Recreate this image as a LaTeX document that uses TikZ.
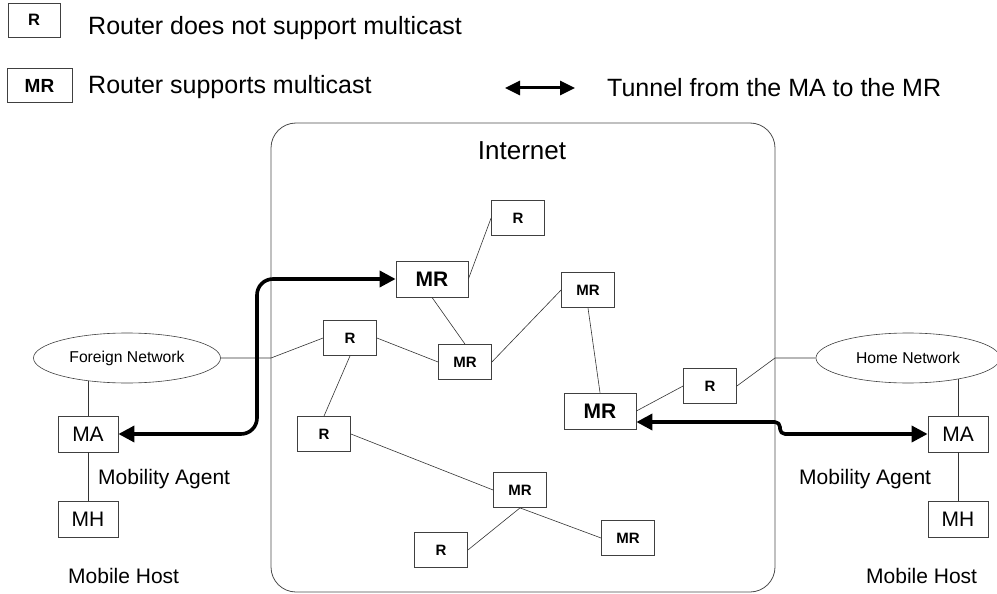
\documentclass[tikz,border=0pt]{standalone}
\usepackage{fontspec}
\setmainfont{Liberation Sans}
\usetikzlibrary{shapes.geometric,arrows.meta}
\begin{document}
\begin{tikzpicture}[x=1pt,y=-1pt,
  rbox/.style={draw=black!75, line width=0.8pt, minimum width=53pt, minimum height=35pt, inner sep=0pt, font=\fontsize{15}{18}\selectfont\bfseries},
  bigmr/.style={rbox, minimum width=72pt, minimum height=36pt, font=\fontsize{21}{25}\selectfont\bfseries},
  host/.style={draw=black!75, line width=0.8pt, minimum width=60pt, minimum height=36pt, inner sep=0pt, font=\fontsize{21}{25}\selectfont},
  net/.style={ellipse, draw=black!75, line width=0.6pt, minimum width=187pt, minimum height=50pt, inner sep=0pt, font=\fontsize{15.7}{19}\selectfont},
  link/.style={line width=0.6pt, draw=black!80},
  lbl/.style={inner sep=0pt, font=\fontsize{21}{25}\selectfont},
  legtext/.style={inner sep=0pt, font=\fontsize{25}{30}\selectfont},
  tunnel/.style={line width=3.6pt, line join=round, {Triangle[length=16pt,width=16pt]}-{Triangle[length=16pt,width=16pt]}}
]
\useasboundingbox (0,0) rectangle (997,594);

% legend
\node[rbox, minimum width=52pt, minimum height=34pt, font=\fontsize{16.5}{20}\selectfont\bfseries] (lr) at (34,20) {R};
\node[rbox, minimum width=65pt, minimum height=34pt, font=\fontsize{19}{23}\selectfont\bfseries] (lmr) at (39.5,85.5) {MR};
\node[legtext, anchor=base west] (t1) at (88,35) {Router does not support multicast};
\node[legtext, anchor=base west] (t2) at (88,94) {Router supports multicast};
\coordinate (la1) at (505,88);
\coordinate (la2) at (575,88);
\draw[line width=3pt, {Triangle[length=15pt,width=14pt]}-{Triangle[length=15pt,width=14pt]}] (la1) -- (la2);
\node[legtext, anchor=base west] (t3) at (607,96) {Tunnel from the MA to the MR};

% Internet
\node[draw=black!70, line width=0.8pt, rounded corners=25pt, minimum width=504pt, minimum height=469pt, inner sep=0pt] (inet) at (523,357.5) {};
\node[inner sep=0pt, font=\fontsize{26}{31}\selectfont, anchor=base] (inettxt) at (522,159) {Internet};

% routers
\node[rbox] (rtop) at (518,218) {R};
\node[bigmr] (mr1) at (432,279) {MR};
\node[rbox] (mr2) at (588,290) {MR};
\node[rbox] (r1) at (350,338) {R};
\node[rbox] (mr3) at (465,362) {MR};
\node[rbox] (r2) at (324,434) {R};
\node[bigmr] (mr4) at (600,411) {MR};
\node[rbox] (mr5) at (520,490) {MR};
\node[rbox] (r3) at (441,550) {R};
\node[rbox] (mr6) at (628,538) {MR};
\node[rbox] (r4) at (710,386) {R};

% networks and hosts
\node[net] (fn) at (127,358) {Foreign Network};
\node[net, minimum width=184pt] (hn) at (908,358) {Home Network};
\node[host] (maL) at (88,434) {MA};
\node[host] (mhL) at (88,519) {MH};
\node[host] (maR) at (958,434) {MA};
\node[host] (mhR) at (958,519) {MH};
\node[lbl, anchor=base west] (agL) at (98,484) {Mobility Agent};
\node[lbl, anchor=base west] (hoL) at (68,583) {Mobile Host};
\node[lbl, anchor=base west] (agR) at (799,484) {Mobility Agent};
\node[lbl, anchor=base west] (hoR) at (866,583) {Mobile Host};

\coordinate (jL) at (271,358);
\coordinate (jR) at (775,358);

% links
\draw[link] (fn.east) -- (jL) -- (r1.west);
\draw[link] (hn.west) -- (jR) -- (r4.east);
\draw[link] (r4.west) -- (mr4.east);
\draw[link] (mr2.south) -- (mr4.north);
\draw[link] (mr1.south) -- (mr3.north);
\draw[link] (rtop.west) -- (mr1.east);
\draw[link] (mr3.east) -- (mr2.west);
\draw[link] (r1.east) -- (mr3.west);
\draw[link] (r1.south) -- (r2.north);
\draw[link] (r2.east) -- (mr5.west);
\draw[link] (mr5.south) -- (r3.east);
\draw[link] (mr5.south) -- (mr6.west);
\draw[link] (maL.north) -- (maL.north |- fn.210);
\draw[link] (maR.north) -- (maR.north |- hn.337);
\draw[link] (maL.south) -- (mhL.north);
\draw[link] (maR.south) -- (mhR.north);

% tunnels
\coordinate (tl) at (257,0);
\draw[tunnel, rounded corners=16pt] (maL.east) -| (tl |- mr1.west) -- (mr1.west);
\coordinate (tr) at (780,0);
\coordinate (mrt) at ([yshift=-11pt]mr4.east);
\draw[tunnel, rounded corners=5pt] (mrt) -- (tr |- mrt) -- (tr |- maR.west) -- (maR.west);
\end{tikzpicture}
\end{document}
